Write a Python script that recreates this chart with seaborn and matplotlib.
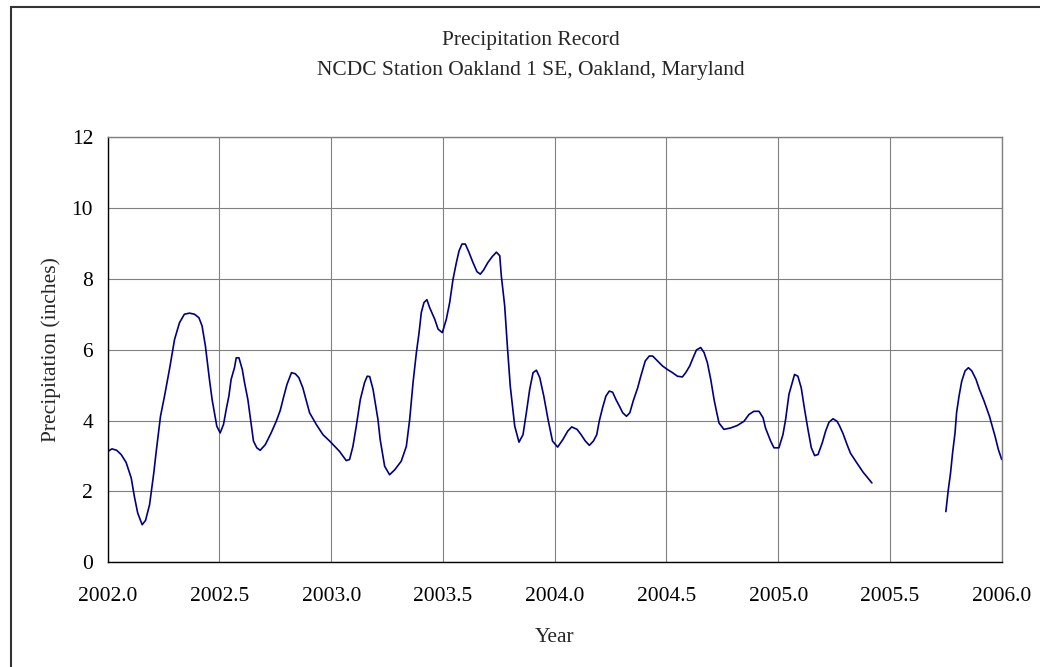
import pandas as pd
import numpy as np
import matplotlib
matplotlib.use("Agg")
import matplotlib.pyplot as plt
from matplotlib.patches import Rectangle
import seaborn as sns

# values (year, inches)
year_a = [2002.000, 2002.019, 2002.040, 2002.060, 2002.082, 2002.105, 2002.119, 2002.134,
          2002.154, 2002.169, 2002.187, 2002.206, 2002.216, 2002.236, 2002.254, 2002.276,
          2002.299, 2002.321, 2002.343, 2002.366, 2002.388, 2002.408, 2002.422, 2002.437,
          2002.455, 2002.467, 2002.488, 2002.503, 2002.518, 2002.530, 2002.542, 2002.552,
          2002.567, 2002.575, 2002.587, 2002.602, 2002.612, 2002.627, 2002.637, 2002.652,
          2002.667, 2002.682, 2002.705, 2002.731, 2002.754, 2002.772, 2002.788, 2002.802,
          2002.822, 2002.839, 2002.855, 2002.873, 2002.903, 2002.933, 2002.963, 2002.993,
          2003.037, 2003.067, 2003.082, 2003.097, 2003.112, 2003.130, 2003.149, 2003.161,
          2003.172, 2003.187, 2003.199, 2003.209, 2003.219, 2003.239, 2003.261, 2003.284,
          2003.313, 2003.336, 2003.351, 2003.366, 2003.381, 2003.393, 2003.403, 2003.415,
          2003.428, 2003.440, 2003.463, 2003.478, 2003.497, 2003.515, 2003.530, 2003.545,
          2003.560, 2003.572, 2003.585, 2003.600, 2003.616, 2003.634, 2003.652, 2003.667,
          2003.682, 2003.701, 2003.721, 2003.739, 2003.754, 2003.761, 2003.776, 2003.788,
          2003.801, 2003.821, 2003.840, 2003.858, 2003.873, 2003.888, 2003.903, 2003.918,
          2003.933, 2003.951, 2003.970, 2003.990, 2004.013, 2004.036, 2004.058, 2004.076,
          2004.100, 2004.118, 2004.137, 2004.155, 2004.173, 2004.188, 2004.199, 2004.214,
          2004.229, 2004.244, 2004.259, 2004.274, 2004.289, 2004.304, 2004.321, 2004.336,
          2004.351, 2004.371, 2004.385, 2004.405, 2004.423, 2004.438, 2004.460, 2004.482,
          2004.504, 2004.527, 2004.549, 2004.571, 2004.586, 2004.604, 2004.619, 2004.634,
          2004.653, 2004.668, 2004.683, 2004.698, 2004.713, 2004.725, 2004.735, 2004.757,
          2004.787, 2004.817, 2004.847, 2004.869, 2004.891, 2004.914, 2004.932, 2004.943,
          2004.955, 2004.966, 2004.981, 2005.003, 2005.021, 2005.033, 2005.048, 2005.063,
          2005.073, 2005.088, 2005.103, 2005.118, 2005.133, 2005.148, 2005.163, 2005.178,
          2005.197, 2005.212, 2005.227, 2005.245, 2005.263, 2005.275, 2005.290, 2005.308,
          2005.323, 2005.350, 2005.380, 2005.419]
precip_a = [3.13, 3.20, 3.16, 3.04, 2.82, 2.38, 1.86, 1.39,
            1.06, 1.18, 1.62, 2.52, 3.08, 4.12, 4.69, 5.44,
            6.29, 6.76, 7.00, 7.03, 7.00, 6.90, 6.67, 6.10,
            5.16, 4.59, 3.84, 3.65, 3.89, 4.31, 4.69, 5.16,
            5.49, 5.77, 5.77, 5.44, 5.07, 4.59, 4.12, 3.42,
            3.23, 3.16, 3.32, 3.65, 3.98, 4.29, 4.69, 5.02,
            5.35, 5.32, 5.21, 4.92, 4.22, 3.89, 3.60, 3.42,
            3.13, 2.87, 2.90, 3.27, 3.84, 4.59, 5.07, 5.25,
            5.24, 4.88, 4.41, 4.03, 3.46, 2.71, 2.47, 2.61,
            2.85, 3.27, 4.03, 5.07, 5.92, 6.48, 7.05, 7.33,
            7.41, 7.19, 6.86, 6.58, 6.48, 6.86, 7.33, 7.99,
            8.46, 8.79, 8.98, 8.98, 8.75, 8.46, 8.20, 8.13,
            8.25, 8.46, 8.63, 8.75, 8.65, 8.08, 7.24, 6.10,
            4.97, 3.84, 3.39, 3.60, 4.22, 4.88, 5.35, 5.42,
            5.21, 4.69, 4.03, 3.42, 3.25, 3.46, 3.70, 3.82,
            3.75, 3.60, 3.42, 3.30, 3.42, 3.60, 3.98, 4.36,
            4.69, 4.83, 4.80, 4.59, 4.41, 4.22, 4.12, 4.22,
            4.55, 4.92, 5.25, 5.68, 5.82, 5.82, 5.68, 5.54,
            5.44, 5.35, 5.25, 5.23, 5.35, 5.54, 5.77, 5.99,
            6.06, 5.92, 5.63, 5.16, 4.59, 4.22, 3.93, 3.75,
            3.79, 3.86, 3.98, 4.17, 4.26, 4.26, 4.08, 3.79,
            3.60, 3.42, 3.23, 3.23, 3.60, 4.03, 4.74, 5.07,
            5.30, 5.25, 4.92, 4.31, 3.75, 3.23, 3.01, 3.04,
            3.37, 3.70, 3.95, 4.05, 3.98, 3.84, 3.63, 3.32,
            3.08, 2.82, 2.54, 2.24]

# record resumes after the gap in mid 2005
year_b = [2005.750, 2005.761, 2005.771, 2005.780, 2005.791, 2005.798, 2005.809, 2005.821,
          2005.836, 2005.851, 2005.866, 2005.885, 2005.900, 2005.921, 2005.945, 2005.970,
          2005.985, 2006.000]
precip_b = [1.43, 2.05, 2.52, 3.08, 3.65, 4.22, 4.69, 5.11,
            5.40, 5.49, 5.40, 5.16, 4.88, 4.55, 4.12, 3.56,
            3.18, 2.90]

x_ticks = [2002.0, 2002.5, 2003.0, 2003.5, 2004.0, 2004.5, 2005.0, 2005.5, 2006.0]
y_ticks = [0, 2, 4, 6, 8, 10, 12]

df = pd.concat([
    pd.DataFrame({"year": year_a, "precip": precip_a, "seg": "a"}),
    pd.DataFrame({"year": year_b, "precip": precip_b, "seg": "b"}),
], ignore_index=True)

sns.set_style("white")
plt.rcParams["font.family"] = ["Liberation Serif", "DejaVu Serif"]
fs = 15.5

fig = plt.figure(figsize=(10.4, 6.67), dpi=100)
ax = fig.add_axes([0.1036, 0.1570, 0.8596, 0.6376])

sns.lineplot(data=df, x="year", y="precip", units="seg", estimator=None, sort=False,
             color="#000080", linewidth=1.2, ax=ax)

ax.set_xlim(2002.0, 2006.0)
ax.set_ylim(0, 12)
ax.set_xticks(x_ticks)
ax.set_xticklabels([f"{t:.1f}" for t in x_ticks])
ax.set_yticks(y_ticks)
ax.grid(True, color="#808080", linewidth=0.8)
ax.set_axisbelow(True)

for side in ["top", "right"]:
    ax.spines[side].set_color("#808080")
    ax.spines[side].set_linewidth(1.0)
for side in ["left", "bottom"]:
    ax.spines[side].set_color("black")
    ax.spines[side].set_linewidth(1.0)

ax.tick_params(axis="both", direction="out", length=4.5, width=0.8, color="black",
               labelsize=fs, labelcolor="black")
ax.tick_params(axis="x", pad=13)
ax.tick_params(axis="y", pad=6)
ax.set_xlabel("Year", fontsize=fs, labelpad=16)
ax.set_ylabel("Precipitation (inches)", fontsize=fs, labelpad=8)

fig.text(0.5106, 0.939, "Precipitation Record", ha="center", va="center", fontsize=fs)
fig.text(0.5106, 0.895, "NCDC Station Oakland 1 SE, Oakland, Maryland",
         ha="center", va="center", fontsize=fs)

# outer chart frame
fig.patches.append(Rectangle((11 / 1040, -0.1), 1.2, 1.1 - 7 / 667,
                             transform=fig.transFigure, fill=False,
                             edgecolor="#333333", linewidth=1.5))

fig.savefig("out.png", dpi=100)
